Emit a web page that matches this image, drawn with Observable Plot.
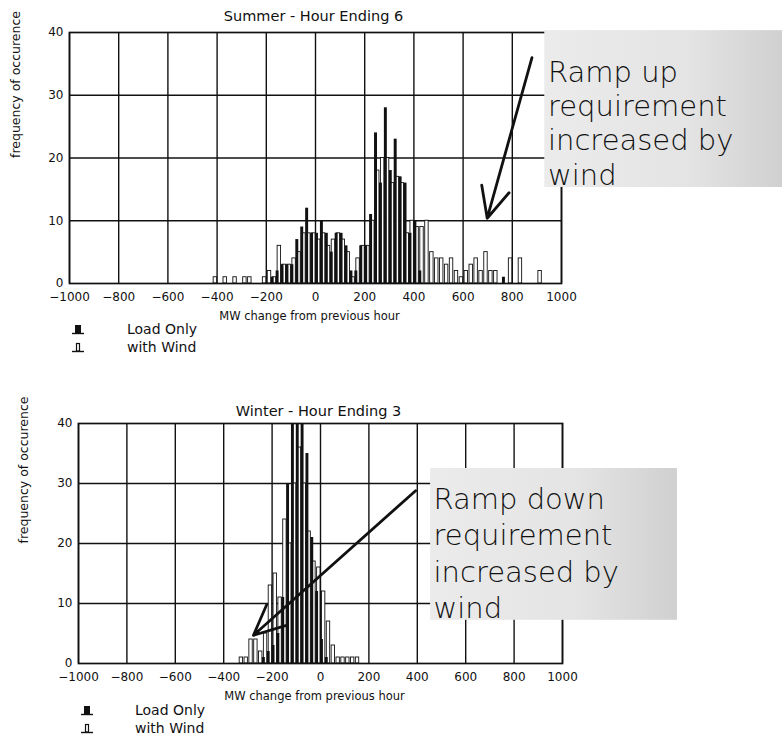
<!DOCTYPE html>
<html>
<head>
<meta charset="utf-8">
<script src="https://cdn.jsdelivr.net/npm/d3@7"></script>
<script src="https://cdn.jsdelivr.net/npm/@observablehq/plot@0.6"></script>
<style>
  html, body { margin: 0; padding: 0; background: white; }
  #page { position: relative; width: 782px; height: 739px; overflow: hidden; font-family: "DejaVu Sans", sans-serif; color: #111; }
  #page > .chart { position: absolute; left: 0; }
  .legend { position: absolute; font-size: 14px; }
  .legend .row { position: relative; display: flex; align-items: center; height: 18px; }
  .legend .row svg { flex: none; }
  .legend .row span { position: absolute; white-space: nowrap; line-height: 18px; top: 0; }
</style>
</head>
<body>
<div id="page"></div>
<script>
// ---------- data ----------
const xTicks = [-1000, -800, -600, -400, -200, 0, 200, 400, 600, 800, 1000];
const yTicks = [0, 10, 20, 30, 40];
const seriesNames = ["Load Only", "with Wind"];

// Summer - Hour Ending 6 (20 MW bins, bin start in MW)
const summerBins = [-420, -380, -340, -300, -280, -220, -200, -180, -160, -140, -120, -100, -80, -60, -40, -20,
  0, 20, 40, 60, 80, 100, 120, 140, 160, 180, 200, 220, 240, 260, 280, 300, 320, 340, 360, 380, 400, 420,
  440, 460, 480, 500, 520, 540, 560, 580, 600, 620, 640, 660, 680, 700, 720, 760, 780, 820, 900];
const summerLoad = [0, 0, 0, 0, 0, 0, 0, 1, 2, 3, 3, 3, 7, 9, 12, 8,
  8, 10, 8, 5, 8, 8, 6, 2, 2, 6, 6, 11, 24, 16, 28, 18, 23, 17, 16, 8, 10, 2,
  0, 0, 0, 0, 0, 0, 0, 0, 0, 0, 0, 0, 0, 0, 0, 1, 0, 0, 0];
const summerWind = [1, 1, 1, 1, 1, 1, 2, 1, 6, 3, 3, 4, 5, 8, 8, 8,
  7, 8, 6, 7, 8, 7, 5, 1, 4, 6, 6, 10, 18, 20, 20, 16, 17, 16, 8, 10, 9, 9,
  10, 5, 4, 4, 3, 4, 2, 1, 2, 3, 4, 2, 5, 2, 2, 0, 4, 4, 2];

// Winter - Hour Ending 3
const winterBins = [-340, -320, -300, -280, -260, -240, -220, -200, -180, -160, -140, -120, -100, -80, -60, -40,
  -20, 0, 20, 40, 60, 80, 100, 120, 140];
const winterLoad = [0, 0, 0, 0, 0, 1, 2, 3, 5, 11, 30, 48, 52, 45, 35, 21,
  12, 4, 1, 0, 0, 0, 0, 0, 0];
const winterWind = [1, 1, 4, 4, 2, 5, 13, 15, 11, 24, 20, 30, 36, 30, 22, 17,
  16, 12, 7, 3, 1, 1, 1, 1, 1];

// ---------- drawing ----------
const INK = "#111";
const fmtX = d => d < 0 ? "\u2212" + Math.abs(d) : String(d);

function histogram(cfg) {
  const rows = cfg.bins.map((b, i) => ({b, load: cfg.load[i], wind: cfg.wind[i]}));
  const svg = Plot.plot({
    width: 782,
    height: cfg.height,
    marginLeft: cfg.ml, marginRight: cfg.mr, marginTop: cfg.mt, marginBottom: cfg.mb,
    x: {domain: [-1000, 1000], label: null},
    y: {domain: [0, 40], label: null},
    style: {fontFamily: "DejaVu Sans, sans-serif", fontSize: "12px", color: INK, background: "white", overflow: "visible"},
    marks: [
      Plot.gridX(xTicks, {stroke: INK, strokeOpacity: 1, strokeWidth: 1.4}),
      Plot.gridY(yTicks.slice(1, -1), {stroke: INK, strokeOpacity: 1, strokeWidth: 1.4}),
      Plot.rectY(rows.filter(d => d.wind > 0), {x1: d => d.b + 6, x2: d => d.b + 20, y: "wind", fill: "white", stroke: INK, strokeWidth: 0.9, clip: true, title: d => `${seriesNames[1]}: ${d.wind}`}),
      Plot.rectY(rows.filter(d => d.load > 0), {x1: d => d.b, x2: d => d.b + 12, y: "load", fill: INK, clip: true, title: d => `${seriesNames[0]}: ${d.load}`}),
      Plot.frame({stroke: INK, strokeWidth: 1.7}),
      Plot.rect([cfg.box], {x1: "x1", x2: "x2", y1: "y1", y2: "y2", fill: "url(#dither)"}),
      Plot.text([cfg.note], {x: "x", y: "y", text: "text", textAnchor: "start", lineAnchor: "top", lineHeight: cfg.noteLH, fontSize: 29, fontWeight: 300, fill: INK}),
      Plot.arrow([cfg.arrow], {x1: "x1", y1: "y1", x2: "x2", y2: "y2", stroke: INK, strokeWidth: 2.8, headLength: 18, headAngle: 50}),
      Plot.axisX(xTicks, {tickSize: 0, tickPadding: 9, tickFormat: fmtX, fontSize: 12, label: null}),
      Plot.axisY(yTicks, {tickSize: 0, tickPadding: 6, fontSize: 12, label: null}),
      Plot.text([cfg.title], {text: d => d, frameAnchor: "top", dy: cfg.titleDy, dx: -2, fontSize: 14.5}),
      Plot.text(["MW change from previous hour"], {text: d => d, frameAnchor: "bottom", dy: 36, dx: -6, fontSize: 11.5}),
      Plot.text(["frequency of occurence"], {text: d => d, frameAnchor: "left", rotate: -90, dx: cfg.ylabDx, fontSize: 12.5})
    ]
  });
  const defs = d3.select(svg).insert("defs", ":first-child");
  const g = defs.append("linearGradient").attr("id", "dither").attr("x1", "0").attr("x2", "1").attr("y1", "0").attr("y2", "0");
  g.append("stop").attr("offset", "0").attr("stop-color", "#ebebeb");
  g.append("stop").attr("offset", "0.6").attr("stop-color", "#e4e4e4");
  g.append("stop").attr("offset", "1").attr("stop-color", "#d0d0d0");
  svg.classList.add("chart");
  svg.style.top = cfg.top + "px";
  return svg;
}

function legend(left, top, textLeft) {
  const div = document.createElement("div");
  div.className = "legend";
  div.style.left = left + "px";
  div.style.top = top + "px";
  const icons = [
    `<svg width="12" height="12"><rect x="3" y="2" width="6" height="8" fill="${INK}"/><line x1="0" x2="12" y1="10.5" y2="10.5" stroke="${INK}" stroke-width="1.4"/></svg>`,
    `<svg width="12" height="12"><rect x="4.5" y="2.5" width="3" height="7.5" fill="white" stroke="${INK}" stroke-width="1.2"/><line x1="0" x2="12" y1="10.5" y2="10.5" stroke="${INK}" stroke-width="1.4"/></svg>`
  ];
  seriesNames.forEach((name, i) => {
    const r = document.createElement("div");
    r.className = "row";
    r.innerHTML = icons[i] + `<span style="left:${textLeft - left}px">${name}</span>`;
    div.appendChild(r);
  });
  return div;
}

const page = document.getElementById("page");

page.appendChild(histogram({
  top: 0, height: 325, ml: 69, mr: 221, mt: 32, mb: 42, titleDy: -22, ylabDx: -54,
  bins: summerBins, load: summerLoad, wind: summerWind,
  title: "Summer - Hour Ending 6",
  box: {x1: 932, x2: 1900, y1: 15.3, y2: 40.3},
  note: {x: 945, y: 36.0, text: "Ramp up\nrequirement\nincreased by\nwind"},
  noteLH: 1.18,
  arrow: {x1: 880, y1: 36, x2: 698, y2: 10.4}
}));
page.appendChild(legend(72, 320, 127));

page.appendChild(histogram({
  top: 395, height: 310, ml: 78, mr: 220, mt: 28, mb: 42, titleDy: -18, ylabDx: -55,
  bins: winterBins, load: winterLoad, wind: winterWind,
  title: "Winter - Hour Ending 3",
  box: {x1: 455, x2: 1475, y1: 7.2, y2: 32.5},
  note: {x: 467, y: 30.0, text: "Ramp down\nrequirement\nincreased by\nwind"},
  noteLH: 1.25,
  arrow: {x1: 393, y1: 28.8, x2: -277, y2: 4.7}
}));
page.appendChild(legend(81, 701, 135));
</script>
</body>
</html>
